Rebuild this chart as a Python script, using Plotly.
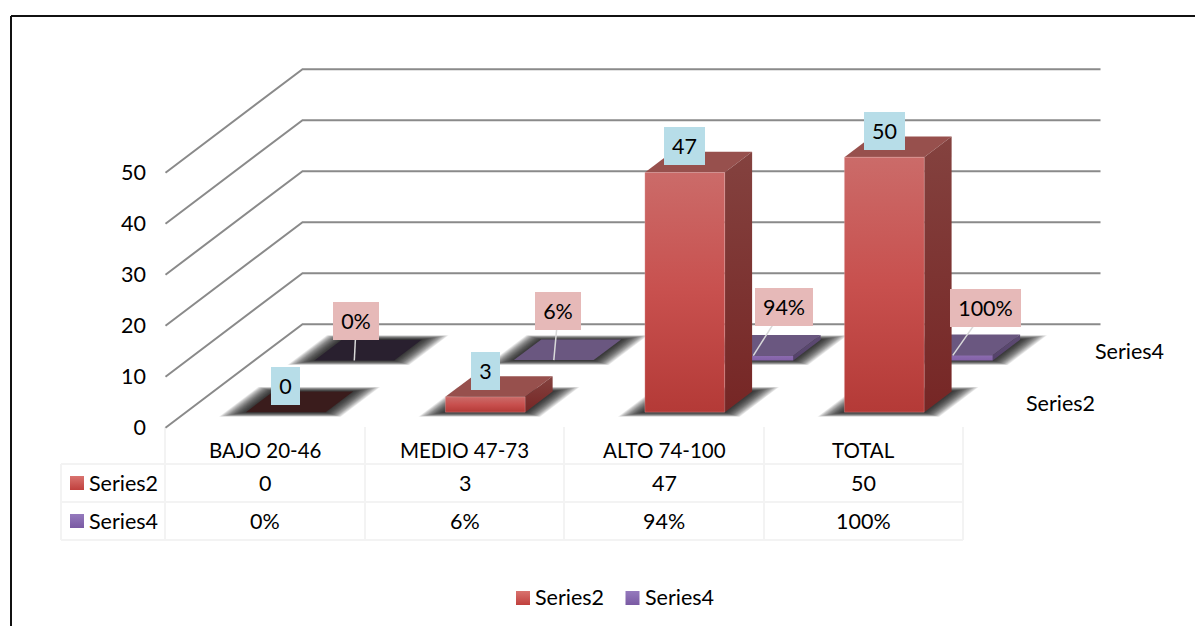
import plotly.graph_objects as go

# Chart data
categories = ["BAJO 20-46", "MEDIO 47-73", "ALTO 74-100", "TOTAL"]
series2_name = "Series2"
series4_name = "Series4"
series2_values = [0, 3, 47, 50]
series4_values = [0.0, 0.06, 0.94, 1.0]
value_ticks = [0, 10, 20, 30, 40, 50]

# Page and oblique projection settings (pixels)
PAGE_W, PAGE_H = 1195, 626
ORIGIN_X, ORIGIN_Y = 165.5, 427.7
CATEGORY_PX, UNIT_PX = 199.5, 5.1
DEPTH_DX, DEPTH_DY = 137.0, 103.5

FONT = "Lato"
TEXT_SIZE = 21.5
HEADER_SIZE = 20.5
TEXT_COLOR = "#000000"
GRID_COLOR = "#8a8a8a"
TABLE_LINE = "#f3f3f3"

BAR_HALF_WIDTH = 0.2
ROW_FRONT = (0.15, 0.65)
ROW_BACK = (0.35, 0.85)

STYLE_S2 = dict(front=("#cb6b69", "#c8504e", "#b43a37"), side=("#84423f", "#762625"),
                top="#97504d", flat="#3a1c1c", edge="rgba(240,190,190,0.28)")
STYLE_S4 = dict(front=("#8c6cb0", "#8360a8"), side=("#5e4c74", "#54416a"),
                top="#6a5780", flat="#29202f", edge="rgba(190,170,215,0.2)")

# Label box offsets from the bar anchor, in pixels (dx, dy) and box sizes (w, h)
S2_OFFSETS = [(0, -26), (0, -26), (0, -26), (0, -26)]
S2_BOXES = [(29, 38), (29, 38), (41, 38), (41, 38)]
S4_OFFSETS = [(2, -39), (4.5, -49), (31, -49), (33, -47)]
S4_BOXES = [(46, 38), (46, 38), (58, 38), (71, 38)]


def px_x(px):
    return (px - ORIGIN_X) / CATEGORY_PX


def px_y(py):
    return (ORIGIN_Y - py) / UNIT_PX


def project(cat, depth, value):
    """Map category position, depth (0..1) and value onto the oblique plot plane."""
    return cat + depth * DEPTH_DX / CATEGORY_PX, value + depth * DEPTH_DY / UNIT_PX


fig = go.Figure()


def polygon(points, color=None, gradient=None, edge=None):
    xs = [p[0] for p in points] + [points[0][0]]
    ys = [p[1] for p in points] + [points[0][1]]
    kwargs = dict(x=xs, y=ys, mode="lines", fill="toself", hoverinfo="skip", showlegend=False,
                  line=dict(width=1 if edge else 0, color=edge or "rgba(0,0,0,0)"))
    if gradient:
        last = len(gradient) - 1
        stops = [[(last - k) / last, c] for k, c in enumerate(gradient)][::-1]
        kwargs["fillgradient"] = dict(type="vertical", colorscale=stops)
    else:
        kwargs["fillcolor"] = color
    fig.add_trace(go.Scatter(**kwargs))


# Wall and floor grid lines
n_cat = len(categories)
for tick in value_ticks:
    pts = [project(0, 0, tick), project(0, 1, tick), project(n_cat, 1, tick)]
    fig.add_trace(go.Scatter(x=[p[0] for p in pts], y=[p[1] for p in pts], mode="lines",
                             line=dict(color=GRID_COLOR, width=2), hoverinfo="skip",
                             showlegend=False))

# Soft floor shadows built from stacked translucent parallelograms
SHADOW_STEPS = 22
for step in range(SHADOW_STEPS, 0, -1):
    grow_x = 21.0 * step / SHADOW_STEPS
    grow_y = 4.5 * step / SHADOW_STEPS
    xs, ys = [], []
    slope = DEPTH_DX / DEPTH_DY
    for row in (0, 1):
        for i in range(n_cat):
            left, right = i + 0.5 - BAR_HALF_WIDTH, i + 0.5 + BAR_HALF_WIDTH
            corners = [project(left, ROW_FRONT[row], 0), project(right, ROW_FRONT[row], 0),
                       project(right, ROW_BACK[row], 0), project(left, ROW_BACK[row], 0)]
            signs = [(-1, -1), (1, -1), (1, 1), (-1, 1)]
            for (cx, cy), (sx, sy) in zip(corners, signs):
                xs.append(cx + (sx * grow_x + sy * grow_y * slope) / CATEGORY_PX)
                ys.append(cy + sy * grow_y / UNIT_PX)
            xs.append(xs[-4])
            ys.append(ys[-4])
            xs.append(None)
            ys.append(None)
    fig.add_trace(go.Scatter(x=xs, y=ys, mode="lines", fill="toself", hoverinfo="skip",
                             showlegend=False, line=dict(width=0, color="rgba(0,0,0,0)"),
                             fillcolor="rgba(20,20,20,0.07)"))


def draw_bars(values, row, style):
    front, back = ROW_FRONT[row], ROW_BACK[row]
    for i, value in enumerate(values):
        left, right = i + 0.5 - BAR_HALF_WIDTH, i + 0.5 + BAR_HALF_WIDTH
        top_color = style["flat"] if value == 0 else style["top"]
        polygon([project(left, front, value), project(right, front, value),
                 project(right, back, value), project(left, back, value)], color=top_color)
        if value == 0:
            continue
        polygon([project(right, front, 0), project(right, back, 0),
                 project(right, back, value), project(right, front, value)],
                gradient=style["side"])
        polygon([project(left, front, 0), project(right, front, 0),
                 project(right, front, value), project(left, front, value)],
                gradient=style["front"], edge=style["edge"] if value > 1 else None)


draw_bars(series4_values, 1, STYLE_S4)

# Leader lines from the back row labels down to their bars
for i, value in enumerate(series4_values):
    ax, ay = project(i + 0.5, ROW_FRONT[1], value)
    dx, dy = S4_OFFSETS[i]
    fig.add_trace(go.Scatter(x=[ax, ax + dx / CATEGORY_PX], y=[ay, ay - dy / UNIT_PX], mode="lines",
                             line=dict(color="#d9d9d9", width=1.5), hoverinfo="skip",
                             showlegend=False))

draw_bars(series2_values, 0, STYLE_S2)

annotations = []


def text_at(x, y, text, xanchor="center", size=TEXT_SIZE):
    annotations.append(dict(x=x, y=y, xref="x", yref="y", text=text, showarrow=False,
                            xanchor=xanchor, yanchor="middle", borderpad=0,
                            font=dict(family=FONT, size=size, color=TEXT_COLOR)))


def value_box(anchor, offset, box, text, color):
    annotations.append(dict(x=anchor[0], y=anchor[1], xref="x", yref="y", text=text,
                            showarrow=False, xanchor="center", yanchor="middle",
                            xshift=offset[0], yshift=-offset[1], width=box[0], height=box[1],
                            align="center", valign="middle", bgcolor=color, borderpad=0,
                            borderwidth=0, font=dict(family=FONT, size=TEXT_SIZE, color=TEXT_COLOR)))


for i, value in enumerate(series4_values):
    value_box(project(i + 0.5, ROW_FRONT[1], value), S4_OFFSETS[i], S4_BOXES[i],
              f"{value:.0%}", "#e6b9b8")
for i, value in enumerate(series2_values):
    value_box(project(i + 0.5, ROW_FRONT[0], value), S2_OFFSETS[i], S2_BOXES[i],
              str(value), "#b7dde8")

# Depth axis labels
text_at(px_x(1060.5), px_y(402.5), series2_name)
text_at(px_x(1129), px_y(350.5), series4_name)

# Data table below the plot
shapes = []
TABLE_X = [165, 365, 564, 764, 963]
TABLE_Y = [464, 502, 540]


def hline(x0, x1, y, color=TABLE_LINE, width=2):
    shapes.append(dict(type="line", xref="paper", yref="paper", x0=x0 / PAGE_W, x1=x1 / PAGE_W,
                       y0=1 - y / PAGE_H, y1=1 - y / PAGE_H, layer="below",
                       line=dict(color=color, width=width)))


def vline(x, y0, y1, color=TABLE_LINE, width=2):
    shapes.append(dict(type="line", xref="paper", yref="paper", x0=x / PAGE_W, x1=x / PAGE_W,
                       y0=1 - y0 / PAGE_H, y1=1 - y1 / PAGE_H, layer="below",
                       line=dict(color=color, width=width)))


for y in TABLE_Y:
    hline(61, 963, y)
vline(61, 464, 540)
for x in TABLE_X:
    vline(x, 427, 540)

for i, cat in enumerate(categories):
    text_at(i + 0.5, px_y(450), cat, size=HEADER_SIZE)
    text_at(i + 0.5, px_y(483), str(series2_values[i]))
    text_at(i + 0.5, px_y(521), f"{series4_values[i]:.0%}")


def swatch(x0, y0, gradient):
    x1, y1 = x0 + 14, y0 + 14
    polygon([(px_x(x0), px_y(y1)), (px_x(x1), px_y(y1)), (px_x(x1), px_y(y0)), (px_x(x0), px_y(y0))],
            gradient=gradient)


KEY_S2 = ("#d9736f", "#c0403d")
KEY_S4 = ("#957abd", "#7a5aa3")
swatch(70, 476, KEY_S2)
swatch(70, 514, KEY_S4)
text_at(px_x(88), px_y(483), series2_name, xanchor="left")
text_at(px_x(88), px_y(521), series4_name, xanchor="left")

# Legend under the table
swatch(516, 591, KEY_S2)
swatch(625.5, 591, KEY_S4)
text_at(px_x(534), px_y(597), series2_name, xanchor="left")
text_at(px_x(644), px_y(597), series4_name, xanchor="left")

# Outer chart border, open at the right and bottom
hline(11, PAGE_W, 16, color="#111111", width=2)
vline(11, 16, PAGE_H, color="#111111", width=2)

fig.update_layout(
    width=PAGE_W, height=PAGE_H, margin=dict(l=0, r=0, t=0, b=0),
    paper_bgcolor="#ffffff", plot_bgcolor="rgba(0,0,0,0)", showlegend=False,
    xaxis=dict(range=[px_x(0), px_x(PAGE_W)], visible=False, fixedrange=True),
    yaxis=dict(range=[px_y(PAGE_H), px_y(0)], anchor="free", position=146 / PAGE_W, side="left",
               tickmode="array", tickvals=value_ticks, ticks="", showgrid=False, zeroline=False,
               showline=False, fixedrange=True,
               tickfont=dict(family=FONT, size=TEXT_SIZE, color=TEXT_COLOR)),
    shapes=shapes, annotations=annotations,
)

fig.write_html("out.html", config=dict(displayModeBar=False))
